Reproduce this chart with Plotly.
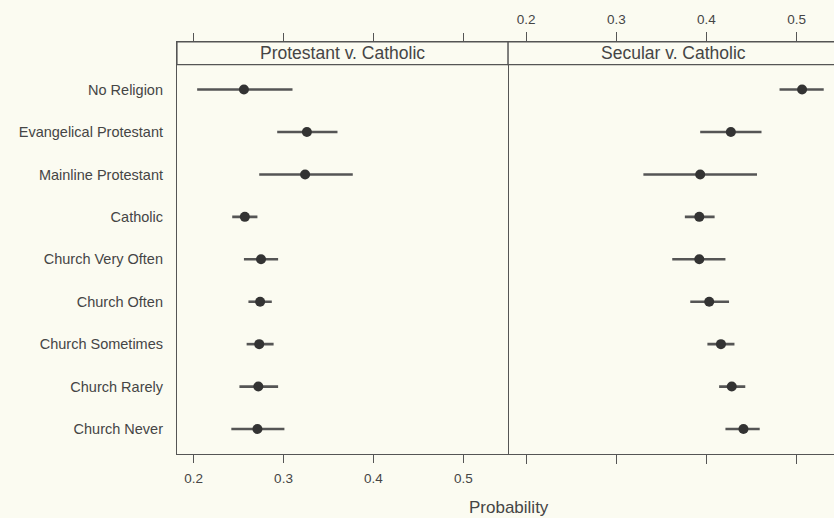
import plotly.graph_objects as go

categories = ["No Religion", "Evangelical Protestant", "Mainline Protestant", "Catholic",
              "Church Very Often", "Church Often", "Church Sometimes", "Church Rarely", "Church Never"]

panels = ["Protestant v. Catholic", "Secular v. Catholic"]

# Protestant v. Catholic
prot_est = [0.256, 0.326, 0.324, 0.257, 0.275, 0.274, 0.273, 0.272, 0.271]
prot_lo = [0.204, 0.293, 0.273, 0.243, 0.256, 0.261, 0.259, 0.251, 0.242]
prot_hi = [0.310, 0.360, 0.377, 0.271, 0.294, 0.287, 0.289, 0.294, 0.301]

# Secular v. Catholic
sec_est = [0.506, 0.427, 0.393, 0.392, 0.392, 0.403, 0.416, 0.428, 0.441]
sec_lo = [0.481, 0.393, 0.330, 0.376, 0.362, 0.382, 0.401, 0.414, 0.421]
sec_hi = [0.530, 0.461, 0.456, 0.409, 0.421, 0.425, 0.431, 0.443, 0.459]

xticks = [0.2, 0.3, 0.4, 0.5]
xtick_text = ["0.2", "0.3", "0.4", "0.5"]

BG = "#fbfbf1"
AX = "#555555"
TXT = "#454545"
FONT = "Liberation Sans, Arial, sans-serif"

ypos = list(range(len(categories)))

fig = go.Figure()
for est, lo, hi, xa in [(prot_est, prot_lo, prot_hi, "x"), (sec_est, sec_lo, sec_hi, "x2")]:
    fig.add_trace(go.Scatter(
        x=est, y=ypos, xaxis=xa, yaxis="y" if xa == "x" else "y2",
        mode="markers",
        marker=dict(size=10, color="#333333"),
        error_x=dict(type="data", symmetric=False,
                     array=[h - e for h, e in zip(hi, est)],
                     arrayminus=[e - l for e, l in zip(est, lo)],
                     width=0, thickness=2.6, color="#555555"),
        showlegend=False, hoverinfo="skip"))

yr = [8.589, -1.121]
split = 0.504
fig.update_layout(
    width=834, height=518,
    margin=dict(l=177, r=0, t=42, b=64),
    paper_bgcolor=BG, plot_bgcolor=BG,
    font=dict(family=FONT, size=13, color=TXT),
    xaxis=dict(domain=[0, split], range=[0.1816, 0.5497], tickvals=xticks, ticktext=xtick_text,
               side="bottom", ticks="outside", ticklen=8, tickcolor=AX, tickwidth=1.2,
               showline=True, linecolor=AX, linewidth=1.2, mirror="ticks",
               showgrid=False, zeroline=False, ticklabelstandoff=4,
               tickfont=dict(size=13.5, color=TXT)),
    xaxis2=dict(domain=[split, 1], range=[0.18, 0.5414], tickvals=xticks, ticktext=xtick_text,
                side="top", anchor="y2", ticks="outside", ticklen=9, tickcolor=AX, tickwidth=1.2,
                showline=True, linecolor=AX, linewidth=1.2, mirror="ticks",
                showgrid=False, zeroline=False, ticklabelstandoff=3,
                tickfont=dict(size=13.5, color=TXT)),
    yaxis=dict(range=yr, tickvals=ypos, ticktext=categories, ticks="", showline=True,
               linecolor=AX, linewidth=1.2, mirror=True, showgrid=False, zeroline=False,
               ticklabelstandoff=10, tickfont=dict(size=14.5, color=TXT)),
    yaxis2=dict(range=yr, anchor="x2", matches="y", showticklabels=False,
                ticks="", showline=False, showgrid=False, zeroline=False),
)

strip_h = 22.6 / 412.0
shapes = []
for x0, x1 in [(0, split), (split, 1.02)]:
    shapes.append(dict(type="rect", xref="paper", yref="paper", x0=x0, x1=x1,
                       y0=1 - strip_h, y1=1, fillcolor=BG, line=dict(color=AX, width=1.2)))
fig.update_layout(shapes=shapes)

for i, (name, (x0, x1)) in enumerate(zip(panels, [(0, split), (split, 1.0)])):
    cx = (x0 + x1) / 2 if i == 0 else (x0 + (x0 + 0.504)) / 2
    fig.add_annotation(text=name, xref="paper", yref="paper", x=cx, y=1 - strip_h / 2,
                       showarrow=False, font=dict(size=17.5, color=TXT, family=FONT),
                       xanchor="center", yanchor="middle")

fig.add_annotation(text="Probability", xref="paper", yref="paper", x=split + 0.001, y=-0.13,
                   showarrow=False, font=dict(size=17, color=TXT, family=FONT),
                   xanchor="center", yanchor="middle")

fig.write_html("out.html")
